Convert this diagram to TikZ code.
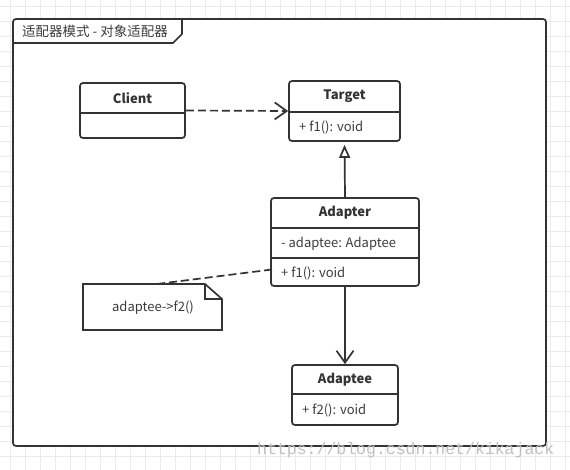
\documentclass[tikz,border=0pt]{standalone}
\usepackage{fontspec}
\setmainfont{Noto Sans CJK SC}
\newfontfamily\wmfont{Liberation Mono}
\usetikzlibrary{arrows.meta}
\definecolor{ink}{HTML}{333333}
\definecolor{txt}{HTML}{3C3C3C}
\definecolor{gridc}{HTML}{EBEBEB}
\tikzset{
  umlbox/.style={draw=ink, line width=1.7pt, rounded corners=3pt, inner sep=0pt, fill=white},
  divider/.style={draw=ink, line width=1.7pt},
  cname/.style={font=\fontsize{13}{15}\selectfont\bfseries, text=ink, inner sep=0pt},
  attr/.style={font=\fontsize{13}{15}\selectfont, text=txt, inner sep=0pt, anchor=west},
  conn/.style={draw=ink, line width=1.7pt},
  dashconn/.style={conn, dash pattern=on 8pt off 4pt},
  openhead/.style={-{Straight Barb[length=12pt,width=17pt,line width=1.7pt]}},
  genhead/.style={-{Triangle[open,length=13pt,width=11pt,line width=1.7pt]}, shorten >=3pt}
}
\begin{document}
\begin{tikzpicture}[x=1pt,y=-1pt]
\useasboundingbox (0,0) rectangle (570,470);
% background grid
\foreach \gx in {10,25,...,565} \draw[gridc, line width=0.9pt] (\gx,0) -- (\gx,470);
\foreach \gy in {6,21,...,466} \draw[gridc, line width=0.9pt] (0,\gy) -- (570,\gy);
% frame
\node[umlbox, minimum width=533pt, minimum height=427pt] (frame) at (279.5,232.5) {};
\draw[divider, line join=round] (13,43) -- (173,43) -- (182,34) -- (182,19);
\node[anchor=west, font=\fontsize{13.5}{15}\selectfont, text=txt, inner sep=0pt] (title) at (22,31) {适配器模式 - 对象适配器};
% Client
\node[umlbox, minimum width=105pt, minimum height=55pt] (client) at (132.5,110.5) {};
\draw[divider] (client.west |- 0,113) -- (client.east |- 0,113);
\node[cname] (clientname) at (132.5,98) {Client};
% Target
\node[umlbox, minimum width=111pt, minimum height=60pt] (target) at (344.5,111) {};
\draw[divider] (target.west |- 0,112) -- (target.east |- 0,112);
\node[cname] (targetname) at (344.5,96.5) {Target};
\node[attr] (targetf1) at (299,127) {+ f1(): void};
% Adapter
\node[umlbox, minimum width=148pt, minimum height=88pt] (adapter) at (345,242) {};
\draw[divider] (adapter.west |- 0,228) -- (adapter.east |- 0,228);
\draw[divider] (adapter.west |- 0,258) -- (adapter.east |- 0,258);
\node[cname] (adaptername) at (345,213) {Adapter};
\node[attr] (adapterfield) at (281,243.5) {- adaptee: Adaptee};
\node[attr] (adapterf1) at (281,273) {+ f1(): void};
% Adaptee
\node[umlbox, minimum width=106pt, minimum height=60pt] (adaptee) at (345,395) {};
\draw[divider] (adaptee.west |- 0,394) -- (adaptee.east |- 0,394);
\node[cname] (adapteename) at (345,380) {Adaptee};
\node[attr] (adapteef2) at (302,410) {+ f2(): void};
% Note
\draw[divider, fill=white, line join=miter] (83,284) -- (205,284) -- (222,299) -- (222,330) -- (83,330) -- cycle;
\draw[divider, line join=miter] (205,284) -- (205,299) -- (222,299);
\node[font=\fontsize{13}{15}\selectfont, text=txt, inner sep=0pt] (note) at (153,308) {adaptee->f2()};
\coordinate (notetop) at (157,284);
\coordinate (adapterhook) at (276,269);
% connectors
\draw[dashconn, openhead] (client.east) -- (target.west);
\draw[conn, genhead] (adapter.north) -- (target.south);
\draw[conn, openhead] (adapter.south) -- (adaptee.north);
\draw[dashconn] (notetop) -- (adapterhook);
% watermark
\node[anchor=west, font=\wmfont\fontsize{16.5}{18}\selectfont, text=black!25, inner sep=0pt] (wm) at (257,450) {https://blog.csdn.net/kikajack};
\end{tikzpicture}
\end{document}
